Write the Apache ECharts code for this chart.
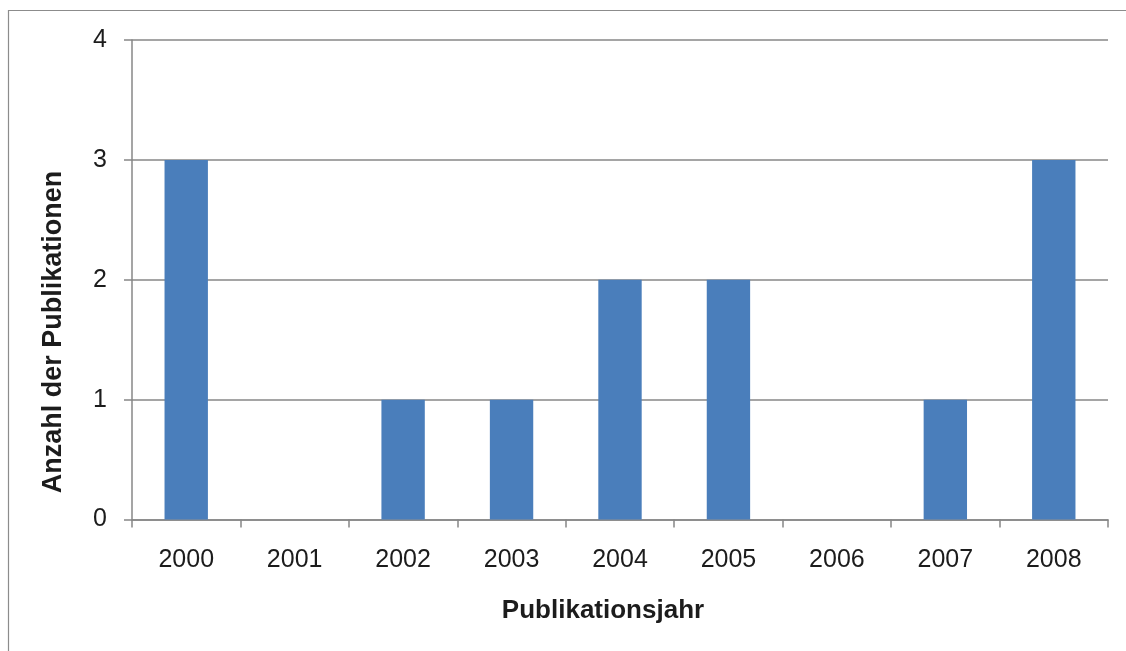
<!DOCTYPE html>
<html>
<head>
<meta charset="utf-8">
<script src="https://cdn.jsdelivr.net/npm/echarts@6/dist/echarts.min.js"></script>
<style>
  html, body { margin: 0; padding: 0; background: #ffffff; }
  #chart { width: 1126px; height: 651px; }
</style>
</head>
<body>
<div id="chart"></div>
<script>
// Publications per year
const years = ['2000', '2001', '2002', '2003', '2004', '2005', '2006', '2007', '2008'];
const counts = [3, 0, 1, 1, 2, 2, 0, 1, 3];
const yTicks = [0, 1, 2, 3, 4];
const xTitle = 'Publikationsjahr';
const yTitle = 'Anzahl der Publikationen';

const axisGray = '#878787';
const textColor = '#1c1c1c';
const font = '"Liberation Sans", Arial, Helvetica, sans-serif';

const chart = echarts.init(document.getElementById('chart'), null, { renderer: 'canvas' });

chart.setOption({
  backgroundColor: '#ffffff',
  animation: false,
  grid: { left: 132, right: 18, top: 40, bottom: 131.5, containLabel: false },
  xAxis: {
    type: 'category',
    data: years,
    boundaryGap: true,
    axisLine: { show: true, lineStyle: { color: axisGray, width: 1.5 } },
    axisTick: { show: true, length: 8, lineStyle: { color: axisGray, width: 1.5 } },
    axisLabel: { margin: 28, fontSize: 25, fontFamily: font, color: textColor },
    splitLine: { show: false }
  },
  yAxis: {
    type: 'value',
    min: yTicks[0],
    max: yTicks[yTicks.length - 1],
    interval: 1,
    axisLine: { show: true, lineStyle: { color: axisGray, width: 1.5 } },
    axisTick: { show: true, length: 8, lineStyle: { color: axisGray, width: 1.5 } },
    axisLabel: { margin: 25, fontSize: 25, fontFamily: font, color: textColor },
    splitLine: { show: true, lineStyle: { color: axisGray, width: 1.5 } }
  },
  series: [{
    type: 'bar',
    data: counts,
    barCategoryGap: '60%',
    itemStyle: { color: '#4a7ebb' }
  }],
  graphic: [
    {
      type: 'rect',
      silent: true,
      z: -1,
      shape: { x: 8.5, y: 10.5, width: 1300, height: 1000 },
      style: { fill: 'none', stroke: '#8c8c8c', lineWidth: 1.2 }
    },
    {
      type: 'text',
      x: 603,
      y: 611,
      style: {
        text: xTitle,
        fontSize: 26,
        fontWeight: 'bold',
        fontFamily: font,
        fill: textColor,
        textAlign: 'center',
        textVerticalAlign: 'middle'
      }
    },
    {
      type: 'text',
      x: 54,
      y: 332,
      rotation: Math.PI / 2,
      style: {
        text: yTitle,
        fontSize: 27,
        fontWeight: 'bold',
        fontFamily: font,
        fill: textColor,
        textAlign: 'center',
        textVerticalAlign: 'middle'
      }
    }
  ]
});
</script>
</body>
</html>
